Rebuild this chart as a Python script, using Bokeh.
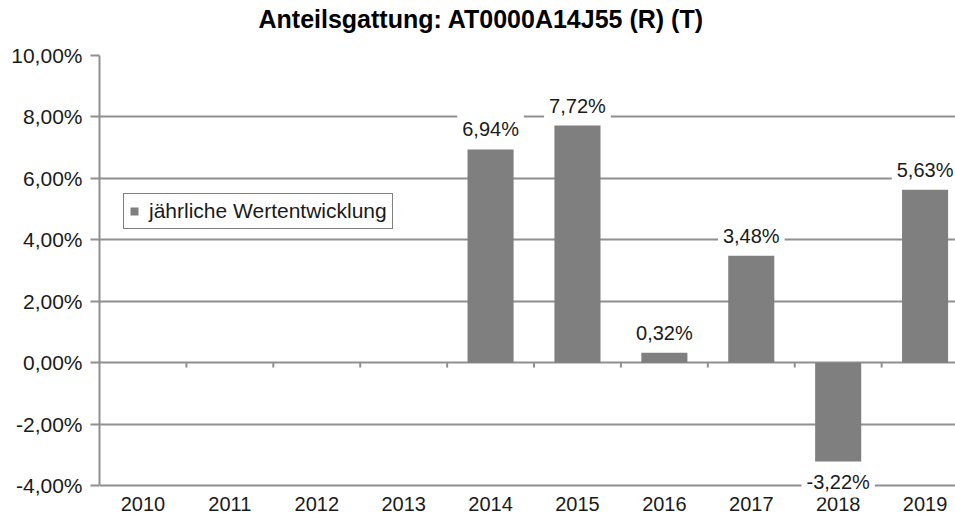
from bokeh.plotting import figure
from bokeh.models import (Range1d, FixedTicker, ColumnDataSource, Legend, LegendItem, Title, Label)
from bokeh.core.properties import value
from bokeh.embed import file_html
from bokeh.resources import INLINE

# ---- data ----
years = ["2010", "2011", "2012", "2013", "2014", "2015", "2016", "2017", "2018", "2019"]
values = [None, None, None, None, 6.94, 7.72, 0.32, 3.48, -3.22, 5.63]
y_ticks = [-4, -2, 0, 2, 4, 6, 8, 10]
y_tick_labels = ["-4,00%", "-2,00%", "0,00%", "2,00%", "4,00%", "6,00%", "8,00%", "10,00%"]
title_text = "Anteilsgattung: AT0000A14J55  (R) (T)"
series_name = "jährliche Wertentwicklung"

FONT = "Liberation Sans"
GRID = "#8f8f8f"
BAR = "#7f7f7f"
TXT = "#1a1a1a"

xs = [i for i, v in enumerate(values) if v is not None]
vs = [v for v in values if v is not None]
labels = [("%.2f" % v).replace(".", ",") + "%" for v in vs]
src = ColumnDataSource(dict(x=xs, top=vs))

y_min, y_max = y_ticks[0], y_ticks[-1]
px_per_unit = 430 / (y_max - y_min)
# frame extends 30px below the lowest tick to hold the category labels
p = figure(output_backend="svg", toolbar_location=None,
           frame_width=856, frame_height=460, x_axis_location=None,
           min_border_left=99, min_border_right=0, min_border_top=55, min_border_bottom=0,
           x_range=Range1d(-0.5, 9.35), y_range=Range1d(y_min - 30 / px_per_unit, y_max),
           background_fill_color="white", border_fill_color="white")
p.outline_line_color = None

# spacer between title and plot area
spacer = Title(text=" ", text_font=FONT, text_font_size="10px", standoff=10,
               text_color="white")
p.add_layout(spacer, "above")
t = Title(text=title_text, align="left", offset=159,
          text_font=FONT, text_font_size="25px", text_font_style="bold",
          text_color="black", standoff=0)
p.add_layout(t, "above")

bars = p.vbar(x="x", top="top", bottom=0, width=0.53, source=src,
              fill_color=BAR, line_color=None)

# zero-line category tick marks
bounds = [i + 0.5 for i in range(len(years) - 1)]
p.segment(x0=bounds, y0=[0] * len(bounds), x1=bounds, y1=[-0.16] * len(bounds),
          line_color=GRID, line_width=2)

# category labels under the lowest grid line
p.text(x=list(range(len(years))), y=[y_min] * len(years), text=years, y_offset=18,
       text_align="center", text_baseline="middle",
       text_font=value(FONT), text_font_size="20px", text_color=TXT)

# data labels (white boxes over the grid lines)
for x, v, s in zip(xs, vs, labels):
    p.add_layout(Label(x=x, y=v, text=s, y_offset=20 if v >= 0 else -20,
                       text_align="center", text_baseline="middle",
                       text_font=FONT, text_font_size="20px", text_color=TXT,
                       background_fill_color="white", padding=5))

# y axis / grid
for g in p.xgrid:
    g.visible = False
p.ygrid.grid_line_color = GRID
p.ygrid.grid_line_width = 2
p.ygrid.ticker = FixedTicker(ticks=y_ticks)

p.yaxis.ticker = FixedTicker(ticks=y_ticks)
p.yaxis.bounds = (y_min, y_max)
p.yaxis.major_label_overrides = {t_: l for t_, l in zip(y_ticks, y_tick_labels)}
p.yaxis.axis_line_color = GRID
p.yaxis.axis_line_width = 2
p.yaxis.major_tick_line_color = GRID
p.yaxis.major_tick_line_width = 2
p.yaxis.major_tick_out = 9
p.yaxis.major_tick_in = 0
p.yaxis.minor_tick_line_color = None
p.yaxis.major_label_text_font = FONT
p.yaxis.major_label_text_font_size = "21px"
p.yaxis.major_label_text_color = TXT
p.yaxis.major_label_standoff = 8

legend = Legend(items=[LegendItem(label=series_name, renderers=[bars])],
                location=(24, 256 + 30), orientation="vertical",
                border_line_color="black", border_line_width=1,
                background_fill_color="white", background_fill_alpha=1,
                padding=5, spacing=0, margin=0, label_standoff=10,
                glyph_width=10, glyph_height=10, label_height=20,
                label_text_font=FONT, label_text_font_size="21px", label_text_color=TXT)
p.add_layout(legend, "center")

open("out.html", "w").write(file_html(p, INLINE))
